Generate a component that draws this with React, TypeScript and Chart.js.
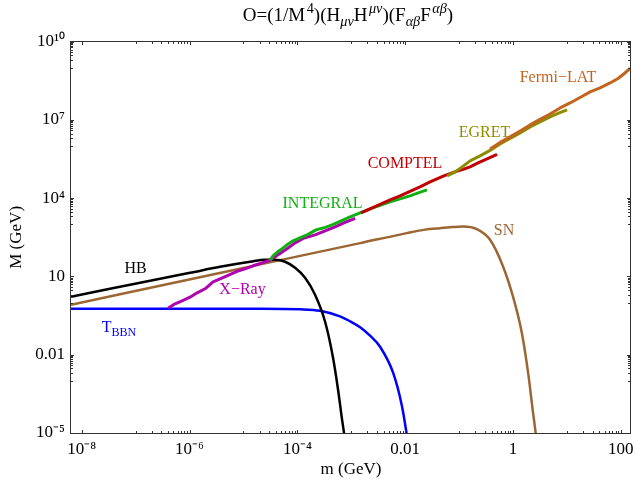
import React, { useEffect, useRef } from "react";
import { Chart, registerables } from "chart.js";

Chart.register(...registerables);

const SERIF = '"Liberation Serif", "Times New Roman", Times, serif';

// ---------- axes ----------
const xMin = 6.31e-9;
const xMax = 155;
const yMin = 1e-5;
const yMax = 1e10;
const xTickValues = [1e-8, 1e-6, 1e-4, 1e-2, 1, 100];
const xTickLabels = ["10⁻⁸", "10⁻⁶", "10⁻⁴", "0.01", "1", "100"];
const yTickValues = [1e-5, 1e-2, 10, 1e4, 1e7, 1e10];
const yTickLabels = ["10⁻⁵", "0.01", "10", "10⁴", "10⁷", "10¹⁰"];
const xMinorDecades = [-7, -5, -3, -1, 1];
const yMinorDecades = [-3, 0, 3, 6, 9];

// ---------- data (m in GeV, M in GeV) ----------
const hbMass = [6.32e-9, 2.19e-8, 7.87e-8, 2.84e-7, 1.02e-6, 3.68e-6, 1.33e-5, 2.52e-5, 3.86e-5, 5.92e-5, 9.08e-5, 1.39e-4, 2.13e-4, 3.27e-4, 4.59e-4, 5.69e-4, 6.75e-4, 7.67e-4];
const hbScale = [1.67, 2.83, 4.81, 8.17, 13.8, 23.5, 36.6, 43.7, 43.7, 36.6, 21.5, 8.91, 1.99, 0.184, 7.69e-3, 4.57e-4, 3.24e-5, 5.56e-6];

const tbbnMass = [6.32e-9, 1.57e-6, 2.03e-5, 1.12e-4, 2.64e-4, 6.19e-4, 9.5e-4, 1.46e-3, 2.23e-3, 3.42e-3, 5.97e-3, 8.77e-3, 1.11e-2];
const tbbnScale = [0.579, 0.579, 0.579, 0.553, 0.485, 0.294, 0.192, 0.113, 0.0536, 0.0203, 2.05e-3, 1.02e-4, 5.56e-6];

const snMass = [6.32e-9, 2.97e-6, 1.46e-3, 1.07e-2, 2.34e-2, 4.45e-2, 7.42e-2, 0.119, 0.213, 0.376, 0.655, 1.0, 1.46, 1.91, 2.36, 2.74];
const snScale = [0.824, 12.4, 190, 459, 625, 713, 780, 822, 653, 254, 24.2, 1.71, 0.0697, 2.05e-3, 6.01e-5, 5.56e-6];

const xrayMass = [3.99e-7, 5.38e-7, 7.26e-7, 1.02e-6, 1.38e-6, 1.94e-6, 2.73e-6, 3.68e-6, 5.18e-6, 7.61e-6, 1.07e-5, 1.51e-5, 2.21e-5, 3.11e-5, 4.38e-5, 6.44e-5, 9.06e-5, 1.28e-4, 2.13e-4, 3.27e-4, 5.01e-4, 7.67e-4, 1.18e-3];
const xrayScale = [0.605, 0.899, 1.17, 1.6, 2.37, 3.38, 6.27, 8.17, 11.1, 15.8, 19.7, 25.7, 33.4, 41.7, 67.8, 115, 195, 290, 395, 562, 800, 1190, 1690];

const integralMass = [3.11e-5, 3.54e-5, 4.2e-5, 5.2e-5, 6.44e-5, 8.32e-5, 1.12e-4, 1.58e-4, 2.22e-4, 3.13e-4, 4.4e-4, 6.19e-4, 9.5e-4, 1.46e-3, 2.23e-3, 3.42e-3, 5.25e-3, 8.05e-3, 1.23e-2, 1.74e-2, 2.55e-2];
const integralScale = [41.7, 62.1, 84.5, 115, 164, 233, 303, 413, 614, 733, 955, 1300, 1930, 2750, 3920, 5330, 7260, 9460, 1.23e4, 1.6e4, 2.09e4];

const comptelMass = [1.52e-3, 2.23e-3, 3.42e-3, 5.25e-3, 8.05e-3, 1.23e-2, 1.89e-2, 2.9e-2, 4.08e-2, 5.5e-2, 8.43e-2, 0.119, 0.16, 0.225, 0.331, 0.507];
const comptelScale = [2750, 3920, 5820, 8650, 1.23e4, 1.83e4, 2.72e4, 4.24e4, 5.77e4, 7.52e4, 1.02e5, 1.27e5, 1.59e5, 2.26e5, 3.22e5, 4.79e5];

const egretMass = [5.99e-2, 8.43e-2, 0.114, 0.16, 0.245, 0.376, 0.577, 0.884, 1.36, 2.08, 3.18, 4.88, 6.87, 10.1];
const egretScale = [7.18e4, 1.02e5, 1.59e5, 2.7e5, 4.19e5, 6.81e5, 1.21e6, 1.96e6, 3.19e6, 5.41e6, 8.41e6, 1.31e7, 1.78e7, 2.42e7];

const fermiMass = [0.376, 0.577, 0.884, 1.36, 2.08, 3.18, 4.88, 7.48, 11.5, 17.6, 27.0, 41.3, 63.4, 89.2, 120, 149];
const fermiScale = [7.78e5, 1.38e6, 2.24e6, 3.8e6, 6.46e6, 1.05e7, 1.7e7, 2.89e7, 4.49e7, 7.29e7, 1.19e8, 1.69e8, 2.62e8, 3.9e8, 6.32e8, 9.42e8];

// ---------- colours ----------
const C_HB = "#000000";
const C_TBBN = "#0000FF";
const C_SN = "#9C6633";
const C_XRAY = "#B000B0";
const C_INTEGRAL = "#10B010";
const C_COMPTEL = "#C00000";
const C_EGRET = "#8C8C00";
const C_FERMI = "#C2641E";

type Part = { t: string; s?: "sup" | "sub"; i?: boolean };

const titleParts: Part[] = [
  { t: "O=(1/M" },
  { t: "4", s: "sup" },
  { t: ")(H" },
  { t: "μν", s: "sub", i: true },
  { t: "H" },
  { t: "μν", s: "sup", i: true },
  { t: ")(F" },
  { t: "αβ", s: "sub", i: true },
  { t: "F" },
  { t: "αβ", s: "sup", i: true },
  { t: ")" },
];

const curveLabels: { parts: Part[]; x: number; y: number; color: string }[] = [
  { parts: [{ t: "HB" }], x: 135.5, y: 273, color: C_HB },
  { parts: [{ t: "X−Ray" }], x: 242.5, y: 294, color: C_XRAY },
  { parts: [{ t: "T" }, { t: "BBN", s: "sub" }], x: 119, y: 331.5, color: C_TBBN },
  { parts: [{ t: "INTEGRAL" }], x: 322.5, y: 208, color: C_INTEGRAL },
  { parts: [{ t: "COMPTEL" }], x: 405, y: 168, color: C_COMPTEL },
  { parts: [{ t: "EGRET" }], x: 484.5, y: 137, color: C_EGRET },
  { parts: [{ t: "Fermi−LAT" }], x: 558, y: 82, color: C_FERMI },
  { parts: [{ t: "SN" }], x: 504, y: 234.5, color: C_SN },
];

function fontFor(p: Part, size: number) {
  const sz = p.s ? size * 0.75 : size;
  return `${p.i ? "italic " : ""}${sz}px ${SERIF}`;
}

function drawRich(ctx: CanvasRenderingContext2D, parts: Part[], cx: number, baseline: number, size: number, color: string) {
  const widths = parts.map((p) => {
    ctx.font = fontFor(p, size);
    return ctx.measureText(p.t).width + (p.s === "sup" ? 1.5 : 0);
  });
  const total = widths.reduce((a, b) => a + b, 0);
  let x = cx - total / 2;
  ctx.fillStyle = color;
  ctx.textAlign = "left";
  ctx.textBaseline = "alphabetic";
  parts.forEach((p, i) => {
    ctx.font = fontFor(p, size);
    const dy = p.s === "sup" ? -0.4 * size : p.s === "sub" ? 0.26 * size : 0;
    ctx.fillText(p.t, x + (p.s === "sup" ? 1.5 : 0), baseline + dy);
    x += widths[i];
  });
}

const decorPlugin = {
  id: "decor",
  afterDatasetsDraw(chart: any) {
    const { ctx, chartArea: a, scales } = chart;
    const xs = scales.x;
    const ys = scales.y;
    ctx.save();
    // curve labels
    curveLabels.forEach((l) => drawRich(ctx, l.parts, l.x, l.y, 16, l.color));
    // frame
    const L = Math.round(a.left) - 0.5;
    const R = Math.round(a.right) - 0.5;
    const T = Math.floor(a.top) + 0.5;
    const B = Math.floor(a.bottom) + 0.5;
    ctx.strokeStyle = "#333";
    ctx.lineWidth = 1;
    ctx.strokeRect(L, T, R - L, B - T);
    // ticks
    const xTick = (v: number, len: number) => {
      const p = Math.round(xs.getPixelForValue(v)) + 0.5;
      if (p < L || p > R) return;
      ctx.beginPath();
      ctx.moveTo(p, B);
      ctx.lineTo(p, B - len);
      ctx.moveTo(p, T);
      ctx.lineTo(p, T + len);
      ctx.stroke();
    };
    const yTick = (v: number, len: number) => {
      const p = Math.round(ys.getPixelForValue(v)) + 0.5;
      if (p < T || p > B) return;
      ctx.beginPath();
      ctx.moveTo(L, p);
      ctx.lineTo(L + len, p);
      ctx.moveTo(R, p);
      ctx.lineTo(R - len, p);
      ctx.stroke();
    };
    xTickValues.forEach((v) => xTick(v, 3.5));
    yTickValues.forEach((v) => yTick(v, 3.5));
    xMinorDecades.forEach((e) => {
      for (let k = 1; k <= 9; k++) xTick(k * Math.pow(10, e), 2.5);
    });
    yMinorDecades.forEach((e) => {
      for (let k = 1; k <= 9; k++) yTick(k * Math.pow(10, e), 2.5);
    });
    // title
    drawRich(ctx, titleParts, 348, 21, 19, "#000");
    ctx.restore();
  },
};

function series(label: string, xs: number[], ys: number[], color: string, smooth: boolean, width: number) {
  return {
    label,
    data: xs.map((x, i) => ({ x, y: ys[i] })),
    borderColor: color,
    backgroundColor: color,
    borderWidth: width,
    pointRadius: 0,
    fill: false,
    tension: 0,
    cubicInterpolationMode: smooth ? "monotone" : "default",
    borderJoinStyle: "round",
    borderCapStyle: "butt",
  };
}

export default function App() {
  const ref = useRef<HTMLCanvasElement>(null);
  useEffect(() => {
    if (!ref.current) return;
    const chart = new Chart(ref.current, {
      type: "line",
      data: {
        datasets: [
          series("Fermi-LAT", fermiMass, fermiScale, C_FERMI, false, 3),
          series("EGRET", egretMass, egretScale, C_EGRET, false, 3),
          series("COMPTEL", comptelMass, comptelScale, C_COMPTEL, false, 3),
          series("INTEGRAL", integralMass, integralScale, C_INTEGRAL, false, 3),
          series("X-Ray", xrayMass, xrayScale, C_XRAY, false, 3),
          series("HB", hbMass, hbScale, C_HB, true, 2.5),
          series("TBBN", tbbnMass, tbbnScale, C_TBBN, true, 2.5),
          series("SN", snMass, snScale, C_SN, true, 2.5),
        ] as any,
      },
      options: {
        responsive: false,
        animation: false,
        devicePixelRatio: 1,
        layout: { padding: { top: 41.7, right: 5, bottom: 0, left: 0 } },
        plugins: {
          legend: { display: false },
          tooltip: { enabled: false },
          title: { display: false },
        },
        scales: {
          x: {
            type: "logarithmic",
            position: "bottom",
            min: xMin,
            max: xMax,
            afterBuildTicks: (s: any) => {
              s.ticks = xTickValues.map((value) => ({ value }));
            },
            afterFit: (s: any) => {
              s.height = 52;
              s.paddingLeft = 0;
              s.paddingRight = 0;
            },
            grid: { display: false, drawTicks: false },
            border: { display: false },
            ticks: {
              autoSkip: false,
              maxRotation: 0,
              minRotation: 0,
              padding: 6,
              color: "#000",
              font: { family: SERIF, size: 17 },
              callback: (_v: any, i: number) => xTickLabels[i],
            },
            title: {
              display: true,
              text: "m (GeV)",
              color: "#000",
              font: { family: SERIF, size: 17 },
              padding: { top: 0, bottom: 5 },
            },
          },
          y: {
            type: "logarithmic",
            position: "left",
            min: yMin,
            max: yMax,
            afterBuildTicks: (s: any) => {
              s.ticks = yTickValues.map((value) => ({ value }));
            },
            afterFit: (s: any) => {
              s.width = 71;
              s.paddingTop = 0;
              s.paddingBottom = 0;
            },
            grid: { display: false, drawTicks: false },
            border: { display: false },
            ticks: {
              autoSkip: false,
              padding: 6,
              color: "#000",
              font: { family: SERIF, size: 17 },
              callback: (_v: any, i: number) => yTickLabels[i],
            },
            title: {
              display: true,
              text: "M (GeV)",
              color: "#000",
              font: { family: SERIF, size: 17 },
              padding: { top: 6, bottom: 0 },
            },
          },
        },
      } as any,
      plugins: [decorPlugin],
    });
    return () => chart.destroy();
  }, []);
  return (
    <div style={{ position: "absolute", left: 0, top: 0, width: 636, height: 485 }}>
      <canvas ref={ref} width={636} height={485} />
    </div>
  );
}
